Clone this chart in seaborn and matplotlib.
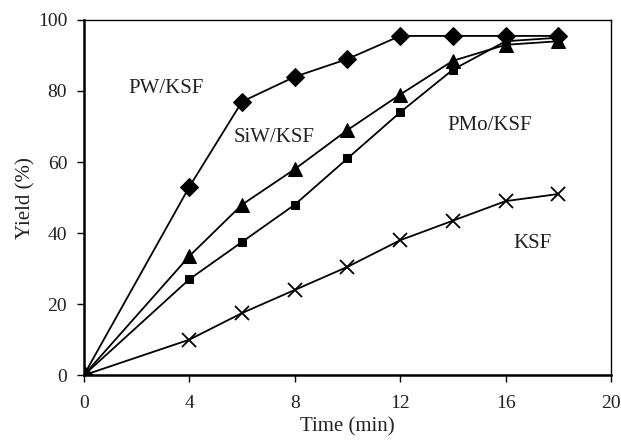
import matplotlib
matplotlib.use("Agg")
import matplotlib.pyplot as plt
import pandas as pd
import seaborn as sns

# reaction time (min)
time_min = [0, 4, 6, 8, 10, 12, 14, 16, 18]

# yields (%)
pw_ksf = [0, 53, 77, 84, 89, 95.5, 95.5, 95.5, 95.5]
siw_ksf = [0, 33.5, 48, 58, 69, 79, 88.5, 93, 94]
pmo_ksf = [0, 27, 37.5, 48, 61, 74, 86, 94, 95]
ksf = [0, 10, 17.5, 24, 30.5, 38, 43.5, 49, 51]

series = {
    "PW/KSF": pw_ksf,
    "SiW/KSF": siw_ksf,
    "PMo/KSF": pmo_ksf,
    "KSF": ksf,
}

df = pd.concat(
    [pd.DataFrame({"Time": time_min, "Yield": v, "Catalyst": k}) for k, v in series.items()],
    ignore_index=True,
)

sns.set_theme(style="ticks")
plt.rcParams["font.family"] = ["Liberation Serif", "DejaVu Serif"]

fig = plt.figure(figsize=(6.21, 4.43), dpi=100)
ax = fig.add_axes([0.135, 0.153, 0.849, 0.802])

marker_style = {
    "PW/KSF": dict(marker="D", markersize=9),
    "SiW/KSF": dict(marker="^", markersize=10.5),
    "PMo/KSF": dict(marker="s", markersize=6),
    "KSF": dict(marker="x", markersize=10.5, markeredgewidth=1.3),
}

for name, grp in df.groupby("Catalyst", sort=False):
    sns.lineplot(
        data=grp, x="Time", y="Yield", ax=ax, color="black",
        linewidth=1.3, markeredgecolor="black", **marker_style[name],
    )

txt = "#222222"
ax.set_xlim(0, 20)
ax.set_ylim(0, 100)
ax.set_xticks([0, 4, 8, 12, 16, 20])
ax.set_yticks([0, 20, 40, 60, 80, 100])
ax.tick_params(axis="both", labelsize=14, direction="out", length=5, width=1,
               colors="black", labelcolor=txt, pad=7)
ax.tick_params(axis="x", pad=9)
for s in ax.spines.values():
    s.set_color("black")
ax.spines["left"].set_linewidth(1.8)
ax.spines["bottom"].set_linewidth(1.8)
ax.spines["top"].set_linewidth(1.0)
ax.spines["right"].set_linewidth(1.0)

ax.set_xlabel("Time (min)", fontsize=15, labelpad=4, color=txt)
ax.set_ylabel("Yield (%)", fontsize=15, labelpad=2, color=txt)

label_kw = dict(fontsize=15, color=txt, va="center", ha="left")
ax.text(1.7, 80.8, "PW/KSF", **label_kw)
ax.text(5.7, 66.8, "SiW/KSF", **label_kw)
ax.text(13.8, 70.4, "PMo/KSF", **label_kw)
ax.text(16.3, 37.2, "KSF", **label_kw)

fig.savefig("out.png", dpi=100)
